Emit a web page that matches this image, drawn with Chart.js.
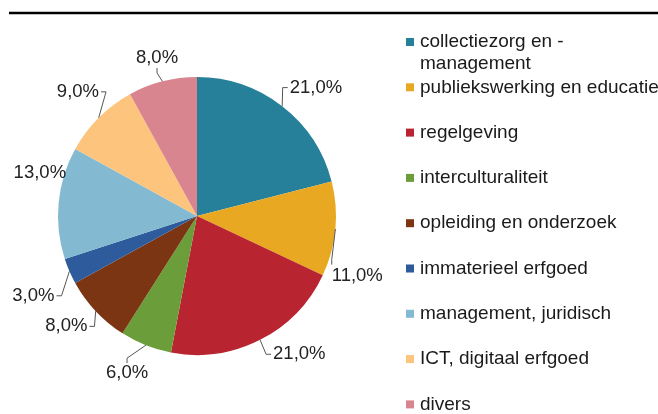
<!DOCTYPE html>
<html>
<head>
<meta charset="utf-8">
<script src="https://cdn.jsdelivr.net/npm/chart.js@4/dist/chart.umd.min.js"></script>
<style>
  html, body { margin: 0; padding: 0; background: #fff; }
  #wrap { position: relative; width: 658px; height: 414px; }
</style>
</head>
<body>
<div id="wrap"><canvas id="c" width="658" height="414"></canvas></div>
<script>
// categories and values (percent)
const categories = [
    'collectiezorg en -\nmanagement',
    'publiekswerking en educatie',
    'regelgeving',
    'interculturaliteit',
    'opleiding en onderzoek',
    'immaterieel erfgoed',
    'management, juridisch',
    'ICT, digitaal erfgoed',
    'divers'
];
const values = [21, 11, 21, 6, 8, 3, 13, 9, 8];
const colors = ['#27809a', '#e8a822', '#b8242f', '#6b9e3a', '#7b3512', '#2d5b9c', '#83bad2', '#fcc47c', '#d9858f'];

// label placement tweaks: angle shift (deg), distance from centre, leader line on/off
const labelLayout = [
    {shift: 5, dist: 175, leader: true},
    {shift: 15, dist: 171, leader: true, corner: true},
    {shift: -9.5, dist: 172, leader: true},
    {shift: 2.4, dist: 172, leader: true},
    {shift: 3, dist: 171, leader: true},
    {shift: -2.6, dist: 182, leader: true},
    {shift: 10, dist: 163, leader: false},
    {shift: 1.2, dist: 172, leader: true},
    {shift: 0.2, dist: 163, leader: true}
];

function fmt(v) {
    return v.toFixed(1).replace('.', ',') + '%';
}

const pieLabels = {
    id: 'pieLabels',
    afterDatasetsDraw(chart) {
        const ctx = chart.ctx;
        const meta = chart.getDatasetMeta(0);
        ctx.save();
        ctx.font = '18.5px "Liberation Sans", Arial, sans-serif';
        ctx.textAlign = 'center';
        ctx.textBaseline = 'middle';
        meta.data.forEach(function (arc, i) {
            const cx = arc.x, cy = arc.y, r = arc.outerRadius;
            const mid = (arc.startAngle + arc.endAngle) / 2;
            const lay = labelLayout[i];
            const la = mid + lay.shift * Math.PI / 180;
            const tx = cx + Math.cos(la) * lay.dist;
            const ty = cy + Math.sin(la) * lay.dist;
            const txt = fmt(values[i]);
            const w = ctx.measureText(txt).width;
            const h = 14;
            if (lay.leader) {
                const ex = cx + Math.cos(mid) * r;
                const ey = cy + Math.sin(mid) * r;
                let anchors = [
                    {x: tx - w / 2 - 2, y: ty, dx: -5, dy: 0},
                    {x: tx + w / 2 + 2, y: ty, dx: 5, dy: 0},
                    {x: tx, y: ty + h / 2 + 3, dx: 0, dy: 5},
                    {x: tx, y: ty - h / 2 - 3, dx: 0, dy: -5}
                ];
                if (lay.corner) {
                    anchors = [{x: tx - w / 2, y: ty - h / 2 - 4, dx: 0, dy: -5}];
                }
                let best = anchors[0], bd = Infinity;
                anchors.forEach(function (a) {
                    const d = Math.hypot(a.x - ex, a.y - ey);
                    if (d < bd) { bd = d; best = a; }
                });
                ctx.strokeStyle = '#555';
                ctx.lineWidth = 1;
                ctx.beginPath();
                ctx.moveTo(ex, ey);
                ctx.lineTo(best.x + best.dx, best.y + best.dy);
                ctx.lineTo(best.x, best.y);
                ctx.stroke();
            }
            ctx.fillStyle = '#222';
            ctx.fillText(txt, tx, ty);
        });
        ctx.restore();
    }
};

const sideLegend = {
    id: 'sideLegend',
    afterDraw(chart) {
        const ctx = chart.ctx;
        ctx.save();
        // top rule
        ctx.strokeStyle = '#000';
        ctx.lineWidth = 2.5;
        ctx.beginPath();
        ctx.moveTo(9, 13);
        ctx.lineTo(658, 13);
        ctx.stroke();

        ctx.font = '19px "Liberation Sans", Arial, sans-serif';
        ctx.textAlign = 'left';
        ctx.textBaseline = 'middle';
        categories.forEach(function (label, i) {
            const y = 42 + i * 45.3;
            ctx.fillStyle = colors[i];
            ctx.fillRect(406, y - 4, 8, 8);
            ctx.fillStyle = '#1a1a1a';
            label.split('\n').forEach(function (line, j) {
                ctx.fillText(line, 420, y + j * 22);
            });
        });
        ctx.restore();
    }
};

new Chart(document.getElementById('c'), {
    type: 'pie',
    data: {
        labels: categories,
        datasets: [{
            data: values,
            backgroundColor: colors,
            borderWidth: 0
        }]
    },
    options: {
        responsive: false,
        animation: false,
        layout: {padding: {left: 58, top: 77, right: 322, bottom: 59}},
        plugins: {
            legend: {display: false},
            tooltip: {enabled: false}
        }
    },
    plugins: [pieLabels, sideLegend]
});
</script>
</body>
</html>
